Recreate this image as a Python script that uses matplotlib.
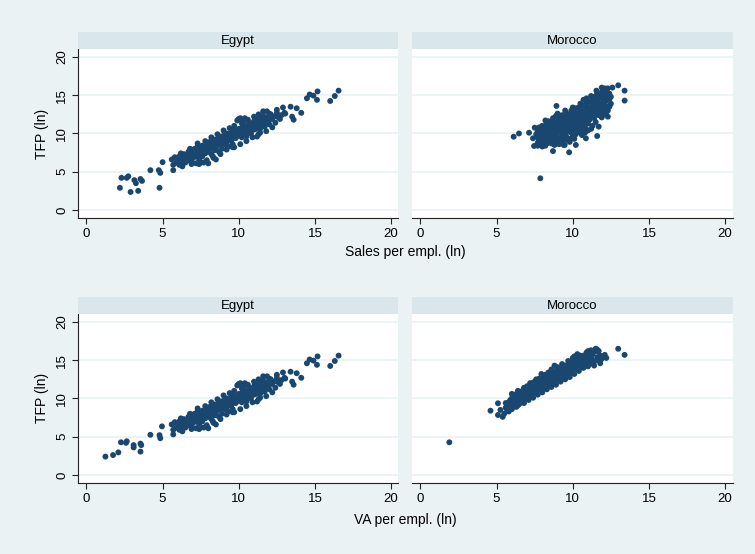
import matplotlib
matplotlib.use("Agg")
import matplotlib.pyplot as plt

plt.rcParams['font.family'] = ['Liberation Sans', 'DejaVu Sans']

# --- data (ln values) ---
# Egypt: core of the cloud (same firms in both rows)
egypt_core_x = [5.6, 5.7, 5.8, 5.9, 6.0, 6.1, 6.1, 6.2, 6.3, 6.3, 6.4, 6.5, 6.5, 6.6, 6.7, 6.7,
                6.8, 6.9, 6.9, 7.0, 7.0, 7.1, 7.1, 7.2, 7.2, 7.3, 7.3, 7.4, 7.4, 7.5, 7.5, 7.6,
                7.6, 7.7, 7.7, 7.8, 7.8, 7.9, 7.9, 8.0, 8.0, 8.1, 8.1, 8.2, 8.2, 8.3, 8.3, 8.4,
                8.4, 8.5, 8.5, 8.6, 8.6, 8.7, 8.7, 8.8, 8.8, 8.9, 8.9, 9.0, 9.0, 9.1, 9.1, 9.2,
                9.2, 9.3, 9.3, 9.4, 9.4, 9.5, 9.5, 9.6, 9.6, 9.7, 9.7, 9.8, 9.8, 9.9, 9.9, 10.0,
                10.0, 10.1, 10.1, 10.2, 10.2, 10.3, 10.3, 10.4, 10.4, 10.5, 10.5, 10.6, 10.6, 10.7,
                10.8, 10.8, 10.9, 11.0, 11.0, 11.1, 11.2, 11.2, 11.3, 11.4, 11.4, 11.5, 11.6, 11.6,
                11.7, 11.8, 11.8, 11.9, 12.0, 12.1, 12.2, 12.3, 12.4, 12.5, 12.6, 12.8, 12.7, 13.0,
                7.5, 8.35, 9.7, 11.4, 11.2]
egypt_core_tfp = [6.6, 5.9, 6.9, 6.2, 6.5, 7.0, 5.9, 6.4, 6.9, 6.0, 7.3, 6.7, 6.2, 7.1, 7.6, 6.5,
                  7.0, 7.8, 6.3, 7.3, 6.8, 8.0, 7.5, 7.0, 6.1, 7.7, 8.3, 7.2, 6.6, 8.0, 7.5, 8.4,
                  7.0, 7.8, 6.2, 8.2, 7.4, 8.6, 7.9, 8.3, 7.6, 8.9, 8.0, 8.5, 7.3, 8.8, 8.2, 9.2,
                  7.8, 8.6, 8.1, 9.3, 8.8, 7.6, 9.0, 9.6, 8.5, 9.2, 8.0, 9.0, 9.7, 8.6, 9.4, 10.0,
                  8.9, 9.5, 8.3, 9.8, 9.2, 10.2, 9.0, 9.6, 8.6, 10.0, 10.5, 9.4, 9.9, 10.3, 11.7, 9.7,
                  10.6, 10.1, 12.0, 9.5, 10.7, 10.3, 11.5, 9.9, 10.9, 10.5, 9.6, 11.1, 10.2, 11.4,
                  10.7, 10.0, 11.0, 11.6, 10.5, 11.2, 10.8, 11.8, 11.4, 10.6, 11.9, 11.1, 11.6, 12.3,
                  10.9, 11.4, 12.1, 11.7, 11.2, 12.5, 11.9, 12.2, 11.4, 12.7, 12.1, 12.4, 11.9, 12.7,
                  6.2, 6.8, 8.2, 10.1, 9.6]
# Egypt: edges and fill of the band
egypt_fringe_x = [6.2, 6.8, 7.3, 7.8, 8.2, 8.6, 9.0, 9.4, 9.7, 10.2, 10.6, 11.0, 11.3, 11.6, 12.0,
                  10.4, 10.0,
                  6.3, 6.9, 7.4, 7.9, 8.3, 8.8, 9.2, 9.6, 10.1, 10.5, 10.9, 11.3, 11.8, 12.2, 8.0, 8.5,
                  6.6, 7.1, 7.6, 8.1, 8.6, 9.1, 9.6, 10.1, 10.6, 11.1, 11.6, 12.0, 7.4, 8.3, 9.3,
                  10.3, 11.3]
egypt_fringe_tfp = [7.4, 8.0, 8.7, 9.0, 9.5, 9.9, 10.4, 10.7, 11.0, 11.3, 11.8, 12.2, 12.5, 12.9, 12.6,
                    12.0, 11.9,
                    5.7, 6.0, 6.0, 6.5, 7.0, 7.3, 7.9, 8.2, 8.6, 9.0, 9.5, 9.9, 10.3, 10.8, 6.1, 6.6,
                    6.8, 7.2, 7.7, 8.3, 8.5, 9.0, 9.4, 9.8, 10.4, 10.6, 11.0, 11.8, 7.9, 8.6, 9.7,
                    10.6, 11.0]
# Egypt: upper tail
egypt_tail_x = [11.85, 12.5, 12.9, 13.4, 13.8, 14.1, 13.05, 13.5, 13.6,
                14.47, 14.65, 14.9, 15.17, 15.13, 16.0, 16.3, 16.55]
egypt_tail_tfp = [12.9, 13.1, 13.4, 13.5, 13.3, 12.7, 12.6, 12.2, 11.8,
                  14.6, 15.1, 14.95, 15.5, 14.4, 14.25, 14.9, 15.6]
# Egypt: low outliers
egypt_low_sales = [2.2, 2.3, 2.65, 2.75, 2.9, 3.15, 3.25, 3.4, 3.55, 3.65, 4.2, 4.75, 4.8, 4.85, 5.0, 5.7]
egypt_low_sales_tfp = [2.9, 4.2, 4.2, 4.4, 2.35, 3.9, 3.5, 2.5, 4.05, 3.8, 5.2, 5.2, 2.9, 4.85, 6.25, 5.2]
egypt_low_va = [1.25, 1.75, 2.1, 2.27, 2.6, 2.65, 3.1, 3.1, 3.55, 3.55, 3.6, 4.2, 4.8, 4.85, 4.96, 5.7]
egypt_low_va_tfp = [2.4, 2.6, 2.95, 4.27, 4.2, 4.4, 3.9, 3.6, 3.05, 4.1, 3.9, 5.25, 5.2, 4.8, 6.35, 5.3]

# Morocco, sales per employee
morocco_sales = [7.7, 7.7, 7.7, 7.8, 7.8, 7.9, 7.9, 7.9, 8.0, 8.0, 8.0, 8.1, 8.1, 8.1, 8.2, 8.2, 8.2,
                 8.3, 8.3, 8.3, 8.4, 8.4, 8.4, 8.5, 8.5, 8.5, 8.6, 8.6, 8.6, 8.7, 8.7, 8.7, 8.8, 8.8,
                 8.8, 8.9, 8.9, 8.9, 9.0, 9.0, 9.0, 9.1, 9.1, 9.1, 9.2, 9.2, 9.2, 9.3, 9.3, 9.3, 9.4,
                 9.4, 9.4, 9.5, 9.5, 9.5, 9.6, 9.6, 9.6, 9.7, 9.7, 9.7, 9.8, 9.8, 9.8, 9.9, 9.9, 9.9,
                 10.0, 10.0, 10.0, 10.1, 10.1, 10.1, 10.2, 10.2, 10.2, 10.3, 10.3, 10.3, 10.4, 10.4,
                 10.4, 10.5, 10.5, 10.5, 10.6, 10.6, 10.6, 10.7, 10.7, 10.7, 10.8, 10.8, 10.8, 10.9,
                 10.9, 10.9, 11.0, 11.0, 11.0, 11.1, 11.1, 11.1, 11.2, 11.2, 11.2, 11.3, 11.3, 11.3,
                 11.4, 11.4, 11.4, 11.5, 11.5, 11.5, 11.6, 11.6, 11.6, 11.7, 11.7, 11.7, 11.8, 11.8,
                 11.8, 11.9, 11.9, 11.9, 12.0, 12.0, 12.0, 12.1, 12.1, 12.1, 12.2, 12.2, 12.2, 12.3,
                 12.3, 12.4, 12.4, 12.5,
                 6.12, 6.47, 7.13, 7.39, 7.5, 7.46, 7.87, 8.7, 9.76, 9.47, 10.2, 10.86, 11.6, 11.7,
                 8.93, 12.98, 13.4, 13.4, 12.6, 11.9, 11.55, 12.4, 12.3,
                 7.6, 7.7, 7.8, 7.9, 8.0, 8.1, 8.2, 8.3, 8.4, 8.5, 8.6, 8.7, 8.8, 8.9, 9.0, 9.1,
                 9.2, 9.3, 9.4, 9.5, 9.6, 9.7, 9.8, 9.9, 10.0, 10.1, 10.2, 10.4, 10.6, 10.8, 11.0,
                 11.3, 11.5, 11.9, 12.1, 12.3, 12.2, 12.5, 12.4, 10.9, 10.7, 10.5, 11.2, 8.2, 8.7,
                 9.0, 9.5, 10.0]
morocco_sales_tfp = [9.5, 10.3, 8.8, 10.8, 9.1, 9.8, 8.6, 10.5, 10.2, 9.3, 11.0, 9.0, 9.7, 10.6, 10.9,
                     8.4, 10.0, 9.5, 11.3, 10.4, 8.9, 9.9, 10.8, 11.5, 9.4, 10.2, 8.7, 10.6, 11.0,
                     9.8, 12.0, 9.1, 10.4, 11.3, 8.5, 9.6, 10.9, 12.3, 10.1, 11.6, 9.0, 10.7, 12.0,
                     9.4, 11.2, 8.8, 10.3, 9.8, 11.8, 12.4, 10.6, 11.1, 9.2, 12.1, 10.0, 11.5, 10.8,
                     9.5, 12.6, 11.4, 10.3, 11.9, 8.9, 12.4, 10.9, 11.6, 10.2, 13.0, 11.1, 9.6, 12.2,
                     10.6, 12.8, 11.5, 12.0, 9.9, 13.3, 11.3, 12.6, 10.7, 11.8, 13.4, 10.2, 12.4, 11.0,
                     13.0, 11.6, 12.9, 10.5, 13.6, 12.2, 11.2, 12.7, 11.7, 10.8, 13.2, 12.0, 14.0,
                     12.5, 11.3, 13.5, 12.9, 14.2, 11.8, 13.3, 12.2, 10.6, 14.4, 12.7, 13.8, 13.1,
                     12.0, 14.8, 13.6, 12.6, 11.5, 14.2, 13.0, 15.2, 12.4, 13.7, 14.6, 13.2, 15.0,
                     12.7, 14.0, 13.5, 12.1, 14.6, 13.1, 15.3, 13.8, 14.9, 12.5, 14.3, 15.6, 13.4,
                     14.9, 13.0, 14.5, 15.2, 13.9,
                     9.58, 10.0, 10.1, 9.37, 10.76, 8.37, 4.14, 7.7, 7.54, 8.5, 8.5, 9.37, 9.67, 10.9,
                     13.6, 16.3, 15.6, 14.3, 16.0, 16.0, 15.6, 13.5, 12.2,
                     9.9, 8.4, 10.0, 9.2, 8.3, 10.9, 9.2, 8.7, 11.6, 9.0, 9.6, 10.8, 9.3, 8.7, 10.6,
                     8.6, 11.9, 10.4, 8.5, 9.3, 11.6, 9.1, 10.2, 9.4, 10.4, 9.3, 11.1, 11.2, 9.8, 10.1,
                     10.4, 11.0, 14.0, 15.4, 15.9, 15.9, 12.8, 14.8, 13.6, 14.6, 14.4, 13.9, 14.9,
                     11.7, 11.6, 12.6, 13.0, 13.4]

# Morocco, value added per employee
morocco_va = [5.6, 5.6, 5.7, 5.7, 5.8, 5.8, 5.9, 5.9, 6.0, 6.0, 6.1, 6.1, 6.2, 6.2, 6.3, 6.3, 6.4,
              6.4, 6.5, 6.5, 6.6, 6.6, 6.7, 6.7, 6.8, 6.8, 6.9, 6.9, 7.0, 7.0, 7.0, 7.1, 7.1, 7.2,
              7.2, 7.3, 7.3, 7.4, 7.4, 7.5, 7.5, 7.6, 7.6, 7.7, 7.7, 7.8, 7.8, 7.9, 7.9, 8.0, 8.0,
              8.1, 8.1, 8.2, 8.2, 8.3, 8.3, 8.4, 8.4, 8.5, 8.5, 8.6, 8.6, 8.7, 8.7, 8.8, 8.8, 8.9,
              8.9, 9.0, 9.0, 9.1, 9.1, 9.2, 9.2, 9.3, 9.3, 9.4, 9.4, 9.5, 9.5, 9.6, 9.6, 9.7, 9.7,
              9.8, 9.8, 9.9, 9.9, 10.0, 10.0, 10.1, 10.1, 10.2, 10.2, 10.3, 10.3, 10.4, 10.4, 10.5,
              10.5, 10.6, 10.6, 10.7, 10.7, 10.8, 10.8, 10.9, 10.9, 11.0, 11.0, 11.2, 11.2, 11.3,
              11.3, 11.4, 11.4, 11.6, 11.6, 11.7, 11.7, 11.8, 11.8, 11.9, 12.0, 12.2,
              7.94, 8.8, 9.55, 4.6, 5.09, 5.4, 5.25, 5.09, 12.98, 13.4, 1.9, 10.0,
              5.5, 5.8, 6.0, 6.3, 6.5, 6.8, 7.1, 7.4, 7.7, 8.0, 8.3, 8.6, 8.9, 9.2, 9.5, 9.8,
              10.1, 10.4, 10.7, 11.0, 11.4, 11.8,
              6.0, 6.4, 6.8, 7.2, 7.6, 8.0, 8.4, 8.6, 9.0, 9.3, 9.7, 10.1, 10.3, 10.5, 10.9,
              11.2, 11.5, 11.0, 12.1, 11.6]
morocco_va_tfp = [8.8, 9.4, 9.0, 8.5, 9.5, 9.1, 8.7, 9.8, 9.3, 10.0, 9.7, 8.9, 10.2, 9.4, 9.8, 10.6,
                  9.1, 10.3, 10.0, 10.8, 9.5, 10.5, 11.0, 10.2, 9.8, 10.7, 11.3, 10.4, 10.9, 10.0,
                  11.6, 10.6, 11.2, 11.8, 10.3, 11.0, 11.5, 10.7, 12.1, 11.3, 11.8, 10.9, 12.4,
                  11.6, 12.0, 11.2, 12.6, 11.9, 12.3, 11.5, 12.8, 12.1, 11.3, 12.6, 13.1, 11.9,
                  12.4, 12.9, 11.7, 12.3, 13.3, 12.7, 12.0, 13.0, 13.6, 12.4, 12.9, 13.3, 12.2,
                  12.8, 13.8, 13.2, 12.5, 13.6, 14.0, 12.9, 13.4, 13.9, 12.7, 13.3, 14.2, 13.7,
                  13.0, 14.3, 13.5, 13.9, 14.6, 13.3, 14.1, 14.8, 13.7, 14.3, 15.1, 13.9, 14.6,
                  15.0, 14.2, 14.6, 15.4, 14.1, 14.9, 15.3, 14.4, 14.8, 15.6, 14.3, 15.1, 15.5,
                  14.7, 15.0, 15.8, 15.3, 14.6, 15.8, 15.0, 16.1, 14.8, 15.4, 16.2, 16.2, 15.0,
                  15.6, 14.9, 15.2, 15.5, 15.3,
                  13.2, 14.3, 14.3, 8.4, 7.84, 7.6, 8.5, 9.37, 16.5, 15.7, 4.27, 15.3,
                  8.0, 8.3, 8.6, 8.9, 9.3, 9.4, 9.8, 10.1, 10.5, 10.8, 11.2, 11.5, 11.8, 12.2, 12.5,
                  12.8, 13.2, 13.6, 14.0, 14.2, 14.3, 14.6,
                  10.6, 11.0, 11.4, 12.0, 12.5, 12.9, 13.4, 13.8, 14.1, 14.5, 14.9, 15.5, 15.8,
                  15.6, 16.0, 16.3, 16.5, 16.2, 15.7, 16.4]

panels = [
    ("Egypt", egypt_low_sales + egypt_core_x + egypt_fringe_x + egypt_tail_x,
     egypt_low_sales_tfp + egypt_core_tfp + egypt_fringe_tfp + egypt_tail_tfp),
    ("Morocco", morocco_sales, morocco_sales_tfp),
    ("Egypt", egypt_low_va + egypt_core_x + egypt_fringe_x + egypt_tail_x,
     egypt_low_va_tfp + egypt_core_tfp + egypt_fringe_tfp + egypt_tail_tfp),
    ("Morocco", morocco_va, morocco_va_tfp),
]

BG = '#eaf2f3'
STRIP = '#d9e6eb'
NAVY = '#1a476f'

fig = plt.figure(figsize=(7.55, 5.54), dpi=100, facecolor=BG)

lefts = [0.1033, 0.5457]
bottoms = [0.6065, 0.1282]
w, h = 0.4245, 0.3051
strip_h = 0.0307

for i, (name, xs, ys) in enumerate(panels):
    row, col = divmod(i, 2)
    ax = fig.add_axes([lefts[col], bottoms[row], w, h])
    ax.set_facecolor('white')
    for yy in [0, 5, 10, 15, 20]:
        ax.axhline(yy, color=BG, lw=1.2, zorder=0)
    ax.scatter(xs, ys, s=18, color=NAVY, edgecolors='none', zorder=3)
    ax.set_xlim(-0.55, 20.48)
    ax.set_ylim(-1.05, 21.05)
    ax.set_xticks([0, 5, 10, 15, 20])
    ax.set_yticks([0, 5, 10, 15, 20])
    ax.spines['top'].set_visible(False)
    ax.spines['right'].set_visible(False)
    ax.spines['bottom'].set_color('#222222')
    ax.spines['left'].set_color('#222222')
    ax.tick_params(axis='x', labelsize=9.5, length=4, color='#222222', pad=3)
    if col == 0:
        ax.tick_params(axis='y', labelsize=9.5, length=4, color='#222222', pad=3)
        for lab in ax.get_yticklabels():
            lab.set_rotation(90)
            lab.set_va('center')
    else:
        ax.spines['left'].set_visible(False)
        ax.tick_params(axis='y', left=False, labelleft=False)

    # strip header
    sx = fig.add_axes([lefts[col], bottoms[row] + h, w, strip_h])
    sx.set_facecolor(STRIP)
    for sp in sx.spines.values():
        sp.set_visible(False)
    sx.set_xticks([])
    sx.set_yticks([])
    sx.text(0.5, 0.45, name, ha='center', va='center', fontsize=9.5, transform=sx.transAxes)

fig.text(0.537, 0.545, "Sales per empl. (ln)", ha='center', va='center', fontsize=10)
fig.text(0.537, 0.061, "VA per empl. (ln)", ha='center', va='center', fontsize=10)
fig.text(0.056, 0.759, "TFP (ln)", rotation=90, ha='center', va='center', fontsize=10)
fig.text(0.056, 0.281, "TFP (ln)", rotation=90, ha='center', va='center', fontsize=10)

fig.savefig("out.png", dpi=100, facecolor=BG)
